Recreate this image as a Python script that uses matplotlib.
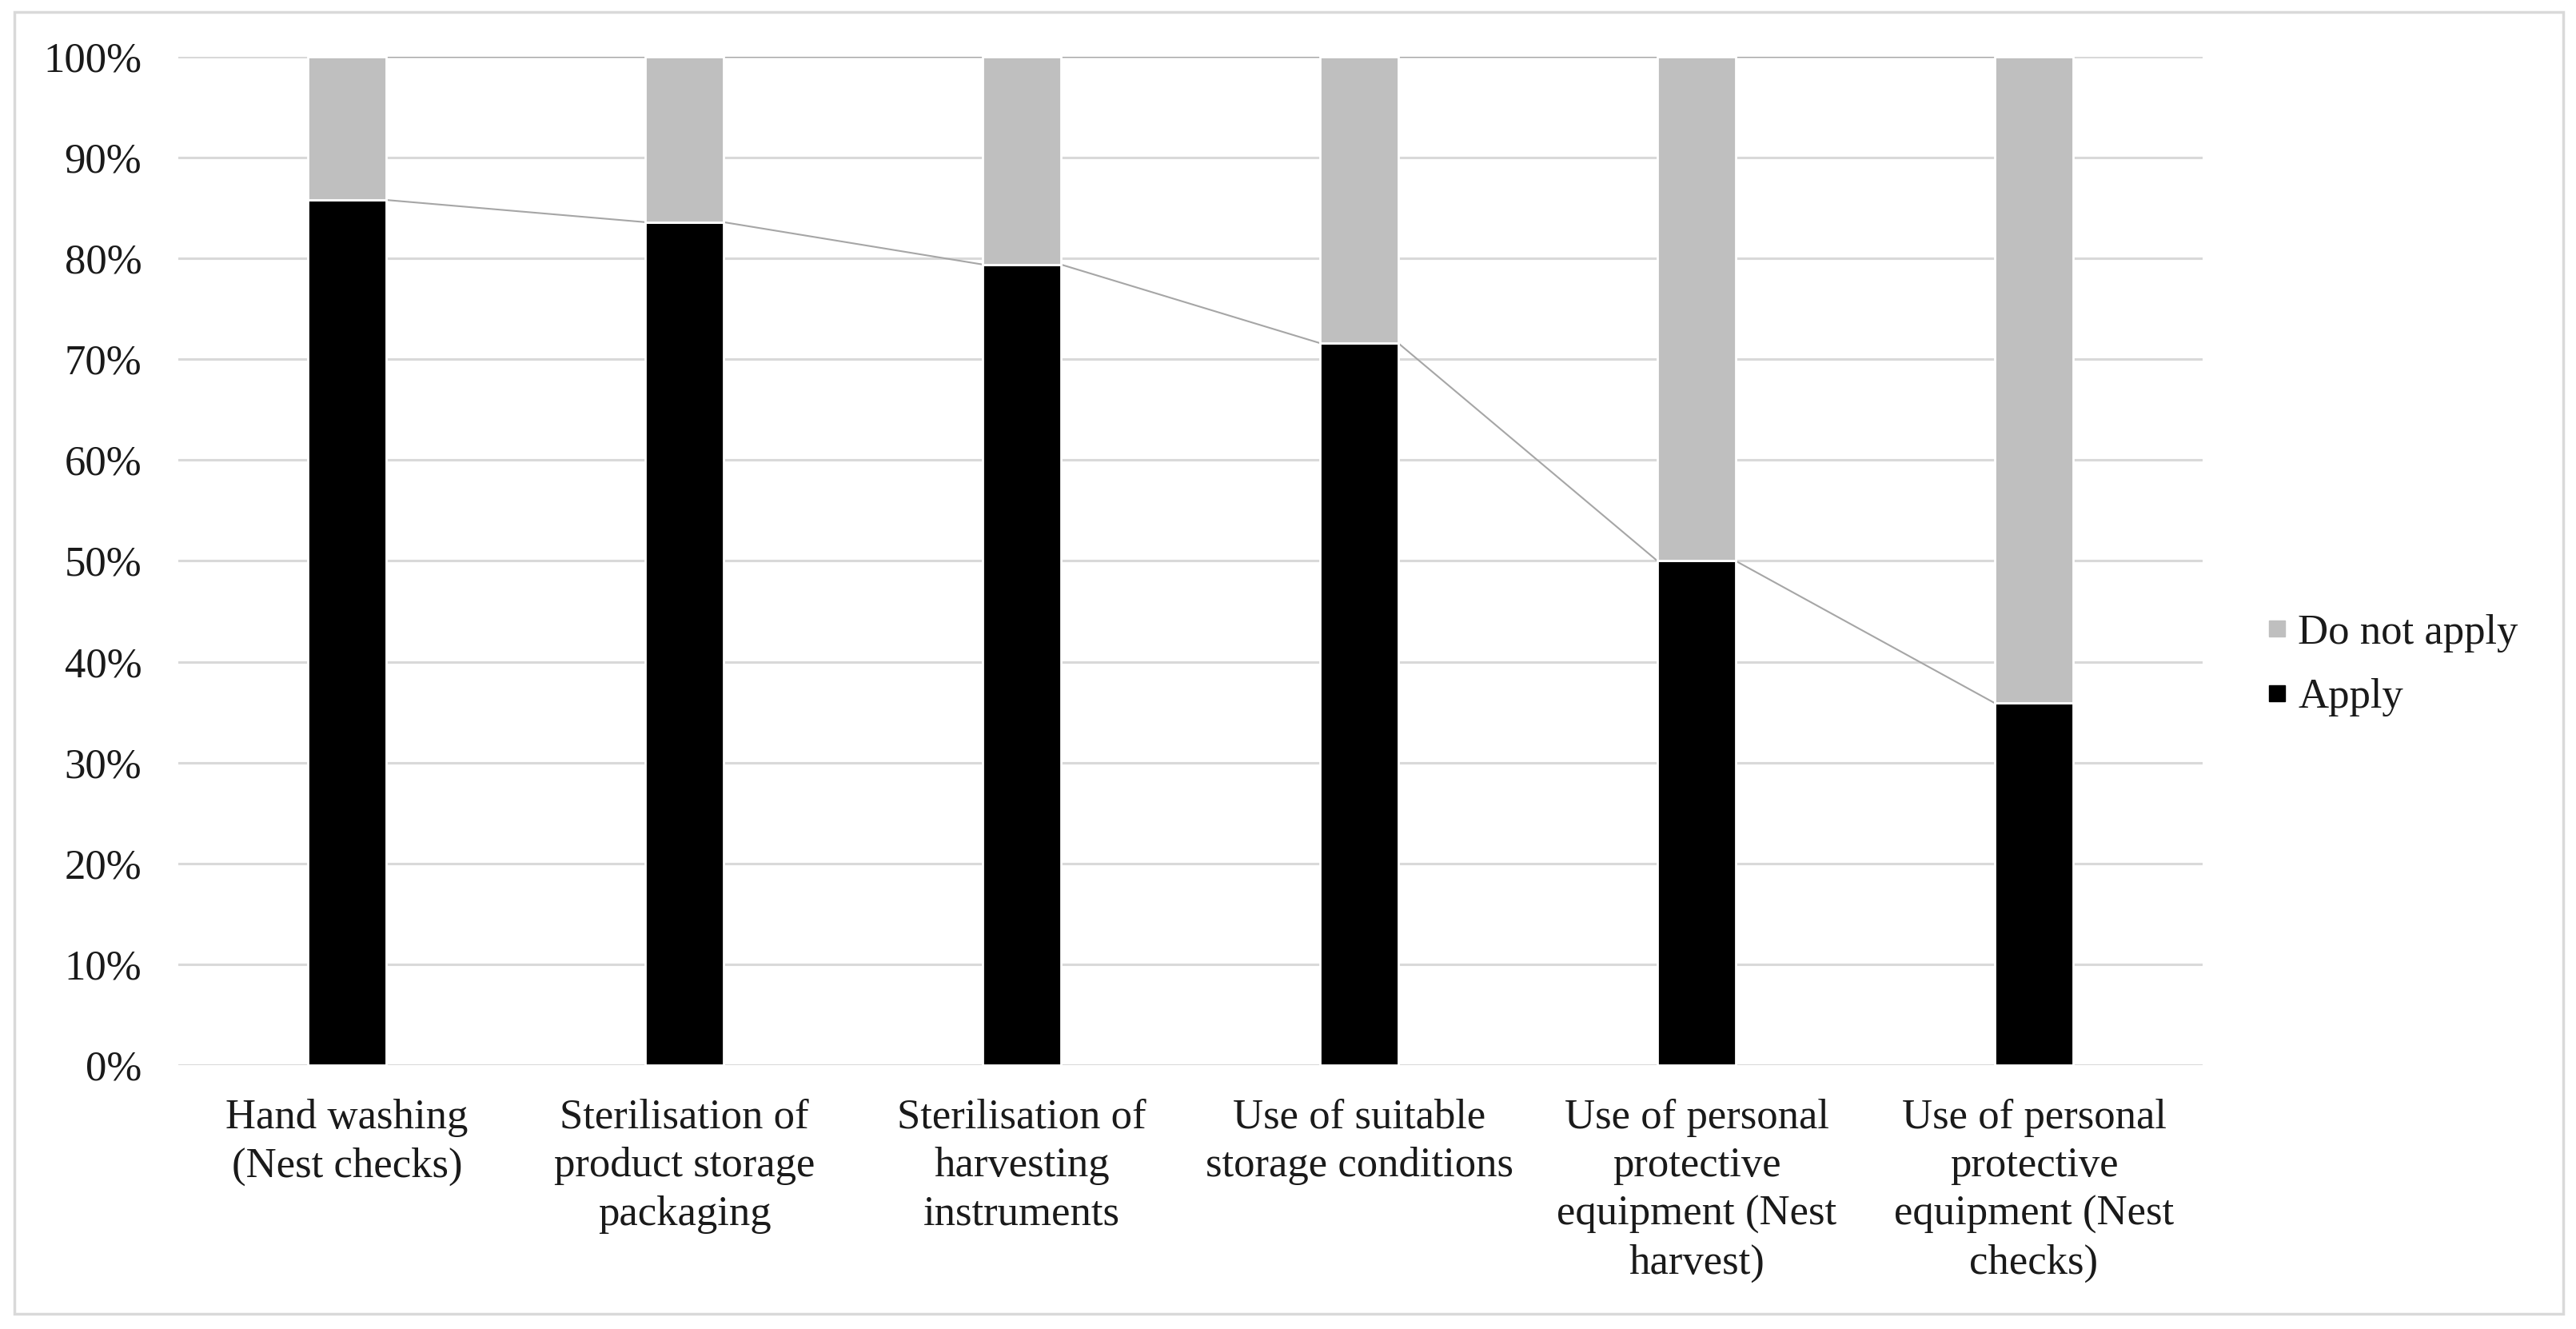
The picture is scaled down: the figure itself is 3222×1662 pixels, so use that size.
import matplotlib as mpl
mpl.use('Agg')
import matplotlib.pyplot as plt
from matplotlib.lines import Line2D
from matplotlib.patches import Rectangle
import numpy as np

plt.rcParams['font.family'] = ['Liberation Serif', 'DejaVu Serif']

categories = [
    'Hand washing\n(Nest checks)',
    'Sterilisation of\nproduct storage\npackaging',
    'Sterilisation of\nharvesting\ninstruments',
    'Use of suitable\nstorage conditions',
    'Use of personal\nprotective\nequipment (Nest\nharvest)',
    'Use of personal\nprotective\nequipment (Nest\nchecks)',
]
apply_pct = [85.8, 83.6, 79.4, 71.6, 50.0, 35.9]
not_apply_pct = [100 - v for v in apply_pct]

W, H, DPI = 3222, 1662, 100
fig = plt.figure(figsize=(W / DPI, H / DPI), dpi=DPI)
ax = fig.add_axes([223 / W, 1 - 1332 / H, (2755 - 223) / W, (1332 - 71) / H])

x = np.arange(len(categories))
bw = 0.232
grid_c = '#d9d9d9'
line_c = '#a6a6a6'
txt_c = '#1a1a1a'
fs = 38

# gridlines
for t in range(0, 101, 10):
    ax.axhline(t, color=grid_c, lw=2.2, zorder=0)

ax.bar(x, apply_pct, bw, color='black', edgecolor='white', lw=2, zorder=3)
ax.bar(x, not_apply_pct, bw, bottom=apply_pct, color='#bfbfbf', edgecolor='white', lw=2, zorder=3)

# series lines between bars
tops = [apply_pct, [a + b for a, b in zip(apply_pct, not_apply_pct)]]
for ys in tops:
    for i in range(len(x) - 1):
        ax.plot([x[i] + bw / 2, x[i + 1] - bw / 2], [ys[i], ys[i + 1]],
                color=line_c, lw=1.5, zorder=2)

ax.set_xlim(-0.5, len(categories) - 0.5)
ax.set_ylim(0, 100)
ax.set_yticks(range(0, 101, 10))
ax.set_yticklabels([f'{t}%' for t in range(0, 101, 10)])
ax.set_xticks(x)
ax.set_xticklabels(categories, linespacing=1.34)
ax.tick_params(axis='both', length=0, labelsize=fs, colors=txt_c)
ax.tick_params(axis='y', pad=33)
ax.tick_params(axis='x', pad=30)
for s in ax.spines.values():
    s.set_visible(False)

handles = [
    Line2D([], [], ls='none', marker='s', ms=14, color='#bfbfbf'),
    Line2D([], [], ls='none', marker='s', ms=14, color='black'),
]
fig.legend(handles, ['Do not apply', 'Apply'], loc='center left',
           bbox_to_anchor=(2782 / W, 1 - 832 / H), frameon=False,
           fontsize=fs, handletextpad=0.15, labelspacing=0.62, handlelength=0.7,
           labelcolor=txt_c)

fig.patches.append(Rectangle((18 / W, 1 - 1643 / H), (3206 - 18) / W, (1643 - 15) / H,
                             transform=fig.transFigure, fill=False,
                             edgecolor=grid_c, lw=2.5))

fig.savefig('out.png', dpi=DPI)
plt.close()
